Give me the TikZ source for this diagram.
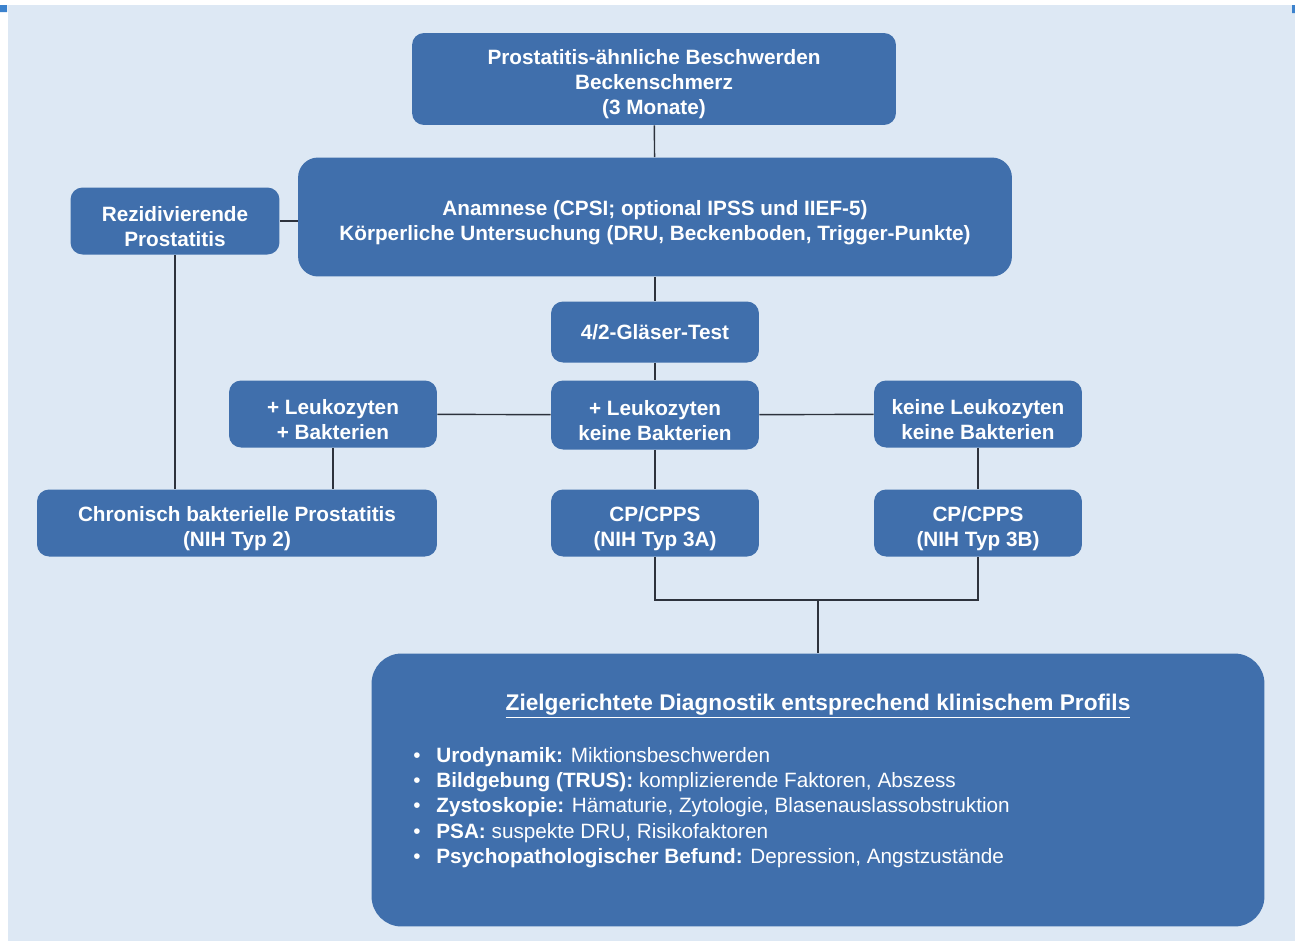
\documentclass[tikz,border=0pt]{standalone}
\usepackage{fontspec}
\setmainfont{Liberation Sans}
\definecolor{boxblue}{RGB}{64,111,172}
\definecolor{bgblue}{RGB}{221,232,244}
\definecolor{linegray}{RGB}{45,50,60}
\definecolor{tickblue}{RGB}{60,130,205}
\newcommand{\punkt}[2]{\makebox[0.46cm][l]{\textbullet}\textbf{#1} #2}
\newcommand{\oben}{\rule{0pt}{14.5pt}}
\begin{document}
\begin{tikzpicture}[x=0.02cm,y=-0.02cm,every node/.style={text=white,align=center,inner sep=0pt},kasten/.style={fill=boxblue,rounded corners=0.24cm,font=\fontsize{11.8}{14.2}\selectfont\bfseries},link/.style={draw=linegray,line width=0.8pt}]
\useasboundingbox (0,0) rectangle (1295,944);
\fill[bgblue] (8,5) rectangle (1295,941);
\fill[tickblue] (0,5) rectangle (7,12) (1292,5) rectangle (1295,13);
\node[kasten,minimum width=9.68cm,minimum height=1.84cm] (top) at (654,79) {\oben Prostatitis-ähnliche Beschwerden\\Beckenschmerz\\(3 Monate)};
\node[kasten,minimum width=14.28cm,minimum height=2.38cm,rounded corners=0.4cm] (anam) at (655,217) {\oben Anamnese (CPSI; optional IPSS und IIEF-5)\\Körperliche Untersuchung (DRU, Beckenboden, Trigger-Punkte)};
\node[kasten,minimum width=4.18cm,minimum height=1.34cm] (rezid) at (175,221) {\oben Rezidivierende\\Prostatitis};
\node[kasten,minimum width=4.16cm,minimum height=1.22cm] (glaser) at (655,332) {4/2-Gläser-Test};
\node[kasten,minimum width=4.16cm,minimum height=1.34cm] (leuL) at (333,414) {\oben + Leukozyten\\+ Bakterien};
\node[kasten,minimum width=4.16cm,minimum height=1.38cm] (leuM) at (655,415) {\oben + Leukozyten\\keine Bakterien};
\node[kasten,minimum width=4.16cm,minimum height=1.34cm] (leuR) at (978,414) {\oben keine Leukozyten\\keine Bakterien};
\node[kasten,minimum width=8cm,minimum height=1.34cm] (chron) at (237,523) {\oben Chronisch bakterielle Prostatitis\\(NIH Typ 2)};
\node[kasten,minimum width=4.16cm,minimum height=1.34cm] (cpA) at (655,523) {\oben CP/CPPS\\(NIH Typ 3A)};
\node[kasten,minimum width=4.16cm,minimum height=1.34cm] (cpB) at (978,523) {\oben CP/CPPS\\(NIH Typ 3B)};
\node[kasten,minimum width=17.86cm,minimum height=5.46cm,rounded corners=0.6cm] (big) at (818,790) {};
\node[font=\fontsize{12.9}{15}\selectfont\bfseries] (ziel) at (818,706) {\underline{Zielgerichtete Diagnostik entsprechend klinischem Profils}};
\node[anchor=north west,align=left,font=\fontsize{11.8}{14.4}\selectfont] (liste) at (413,747) {\punkt{Urodynamik:}{Miktionsbeschwerden}\\
\punkt{Bildgebung (TRUS):}{komplizierende Faktoren, Abszess}\\
\punkt{Zystoskopie:}{Hämaturie, Zytologie, Blasenauslassobstruktion}\\
\punkt{PSA:}{suspekte DRU, Risikofaktoren}\\
\punkt{Psychopathologischer Befund:}{Depression, Angstzustände}};
\coordinate (join) at (818,600);
\draw[link] (top) -- (anam);
\draw[link] (rezid.east) -- (rezid.east -| anam.west);
\draw[link] (rezid.south) -- (rezid.south |- chron.north);
\draw[link] (anam) -- (glaser);
\draw[link] (glaser) -- (leuM);
\draw[link] (leuM) -- (leuL);
\draw[link] (leuM) -- (leuR);
\draw[link] (leuL.south) -- (leuL.south |- chron.north);
\draw[link] (leuM) -- (cpA);
\draw[link] (leuR) -- (cpB);
\draw[link] (cpA.south) |- (join) -| (cpB.south);
\draw[link] (join) -- (big.north);
\end{tikzpicture}
\end{document}
